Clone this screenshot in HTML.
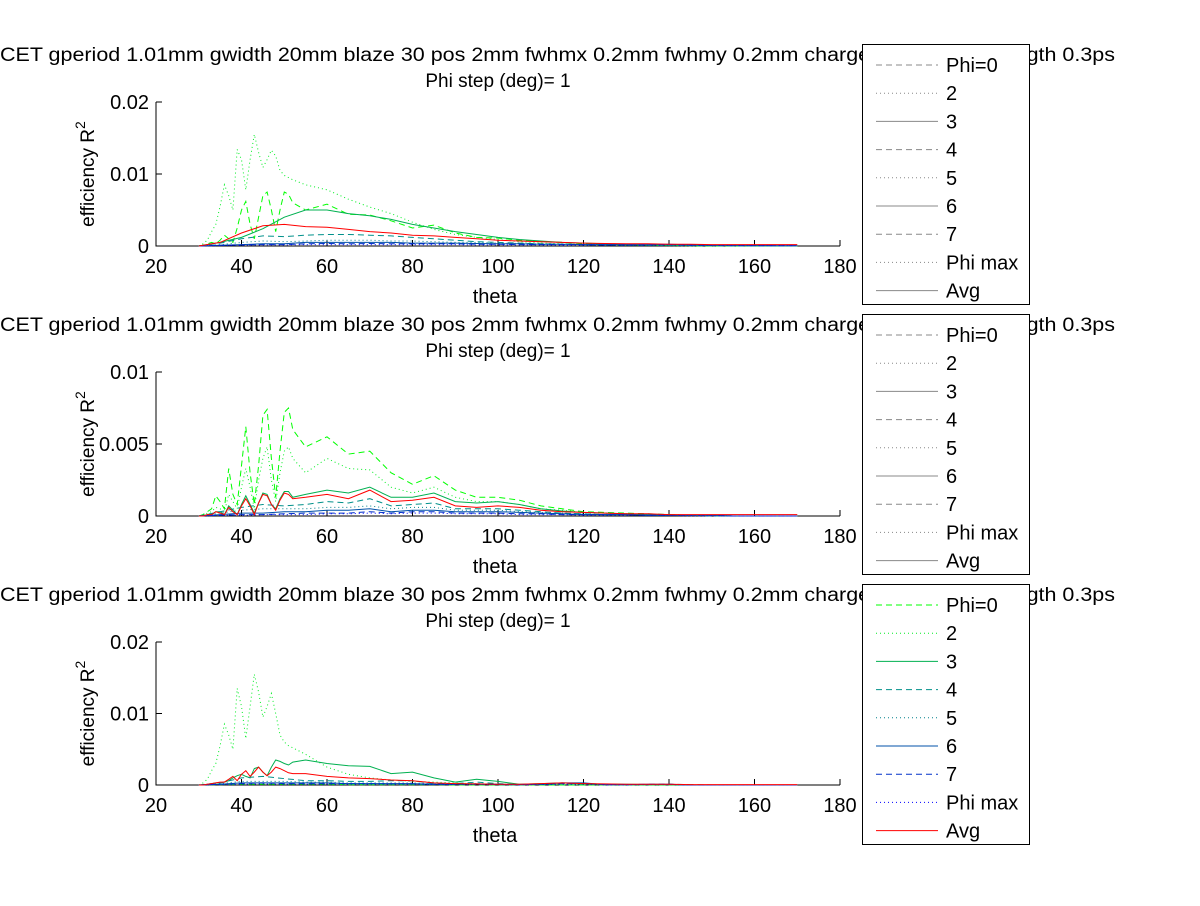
<!DOCTYPE html>
<html><head><meta charset="utf-8"><style>
body{margin:0;background:#fff;}
svg text{font-family:"Liberation Sans",sans-serif;fill:#000;}
</style></head><body>
<svg id="fig" width="1200" height="901" viewBox="0 0 1200 901" xmlns="http://www.w3.org/2000/svg"></svg>
<script>
const thetaFine=[30,31,32,33,34,35,36,37,38,39,40,41,42,43,44,45,46,47,48,49,50,51,52,55,60,65,70,75,80,85,90,95,100,105,110,115,120,125,130,135,140,145,150,155,160,165,170];
const thetaCoarse=[30,35,40,45,50,55,60,65,70,75,80,85,90,95,100,105,110,115,120,125,130,135,140,145,150,155,160,165,170];
const seriesNames=["Phi=0","2","3","4","5","6","7","Phi max","Avg"];
const xTicks=[20,40,60,80,100,120,140,160,180];
const yTicks1=[0,0.01,0.02];const yTickLabels1=["0","0.01","0.02"];
const yTicks2=[0,0.005,0.01];const yTickLabels2=["0","0.005","0.01"];
// plot 1 (values x1e-3)
const p1phi0=[0,0.1,0.3,0.5,0.3,0.8,1.5,1.0,0.5,2.5,5.0,6.2,3.0,1.0,4.0,7.0,7.5,5.0,2.0,5.0,7.5,7.2,6.0,5.0,5.8,4.4,4.3,3.5,2.5,2.9,1.8,1.2,1.1,0.8,0.6,0.5,0.3,0.25,0.2,0.1,0.1,0.05,0,0,0,0,0];
const p1phi2=[0,0.3,0.8,2,3,5.5,8.5,7,5,13.4,12,7.8,12,15.5,13,10.9,12,13.3,12.5,10.5,9.8,9.5,9.2,8.5,7.8,6.5,5.4,4.5,3.3,2.3,1.6,1.2,0.9,0.6,0.4,0.3,0.2,0.15,0.1,0.1,0.05,0,0,0,0,0,0];
const p1phi3=[0,0.5,1.2,2.4,4.0,5.0,5.0,4.5,4.2,3.7,3.0,2.5,2.0,1.6,1.2,0.9,0.7,0.5,0.4,0.3,0.2,0.15,0.1,0.1,0.05,0.05,0,0,0];
const p1phi4=[0,0.4,1.0,1.4,1.3,1.5,1.6,1.6,1.5,1.4,1.2,1.0,0.8,0.6,0.5,0.4,0.3,0.25,0.2,0.15,0.1,0.1,0.1,0.05,0.05,0,0,0,0];
const p1phi5=[0,0.2,0.5,0.7,0.6,0.7,0.8,0.8,0.8,0.7,0.7,0.6,0.5,0.5,0.4,0.35,0.3,0.25,0.2,0.15,0.15,0.1,0.1,0.1,0.05,0.05,0,0,0];
const p1phi6=[0,0.1,0.2,0.3,0.3,0.5,0.5,0.5,0.5,0.5,0.4,0.4,0.4,0.35,0.3,0.3,0.25,0.25,0.2,0.2,0.2,0.2,0.25,0.15,0.1,0.1,0.1,0.05,0.05];
const p1phi7=[0,0.1,0.15,0.2,0.2,0.3,0.35,0.3,0.35,0.3,0.3,0.3,0.3,0.25,0.25,0.2,0.2,0.2,0.2,0.15,0.15,0.15,0.2,0.1,0.1,0.1,0.05,0.05,0.05];
const p1max=[0,0.05,0.1,0.15,0.15,0.2,0.2,0.2,0.2,0.2,0.2,0.2,0.2,0.15,0.15,0.15,0.15,0.1,0.1,0.1,0.1,0.1,0.15,0.1,0.1,0.05,0.05,0.05,0.05];
const p1avg=[0,0.5,1.8,2.8,3.0,2.7,2.6,2.3,2.0,1.8,1.5,1.4,1.2,1.0,0.8,0.7,0.6,0.5,0.4,0.35,0.3,0.3,0.25,0.25,0.2,0.2,0.2,0.2,0.2];
// plot 2
const p2phi0=[0,0.1,0.3,0.5,1.4,1.0,0.5,3.3,1.5,0.8,3.5,6.2,3.0,0.8,3.5,7.0,7.4,4.0,1.3,4.5,7.2,7.5,6.0,4.8,5.5,4.3,4.5,3.0,2.2,2.8,1.8,1.3,1.3,1.1,0.7,0.5,0.3,0.25,0.2,0.15,0.1,0.05,0.05,0,0,0,0];
const p2phi2=[0,0.05,0.2,0.3,0.6,0.5,0.3,1.5,1.0,0.5,2.0,3.3,2.0,0.5,2.5,4.0,4.8,2.5,1.0,3.0,4.5,4.8,4.0,3.0,4.0,3.3,3.2,2.0,1.6,2.0,1.3,1.0,1.0,0.8,0.5,0.4,0.25,0.2,0.15,0.1,0.1,0.05,0.05,0,0,0,0];
const p2phi3=[0,0,0.1,0.1,0.3,0.3,0.1,0.7,0.4,0.1,0.8,1.4,0.8,0.2,0.9,1.6,1.5,0.8,0.5,1.2,1.7,1.7,1.3,1.5,1.8,1.6,2.0,1.3,1.3,1.6,1.0,0.9,1.0,0.8,0.5,0.35,0.25,0.2,0.15,0.1,0.1,0.05,0.05,0,0,0,0];
const p2phi4=[0,0.3,0.6,0.8,0.7,0.8,1.0,0.9,1.2,0.7,0.8,0.9,0.5,0.5,0.5,0.4,0.3,0.2,0.15,0.1,0.1,0.05,0.05,0.05,0,0,0,0,0];
const p2phi5=[0,0.2,0.4,0.5,0.5,0.5,0.6,0.6,0.7,0.5,0.6,0.6,0.4,0.4,0.4,0.3,0.25,0.2,0.15,0.1,0.1,0.05,0.05,0.05,0,0,0,0,0];
const p2phi6=[0,0.1,0.2,0.2,0.3,0.3,0.4,0.4,0.5,0.3,0.4,0.4,0.3,0.3,0.3,0.25,0.2,0.15,0.1,0.1,0.1,0.05,0.05,0.05,0.05,0,0,0,0];
const p2phi7=[0,0.05,0.1,0.1,0.15,0.2,0.2,0.2,0.3,0.2,0.3,0.3,0.2,0.2,0.2,0.15,0.15,0.1,0.1,0.1,0.1,0.05,0.05,0.05,0.05,0,0,0,0];
const p2max=[0,0.05,0.05,0.1,0.1,0.1,0.15,0.15,0.2,0.15,0.2,0.2,0.15,0.15,0.15,0.1,0.1,0.1,0.05,0.05,0.05,0.05,0.05,0,0,0,0,0,0];
const p2avg=[0,0,0.1,0.1,0.3,0.2,0.1,0.6,0.3,0.1,0.7,1.2,0.7,0.1,0.9,1.5,1.4,0.8,0.4,1.1,1.6,1.5,1.2,1.3,1.5,1.2,1.8,1.0,1.1,1.3,0.7,0.6,0.7,0.6,0.4,0.3,0.25,0.2,0.15,0.15,0.1,0.1,0.1,0.1,0.1,0.1,0.1];
// plot 3
const p3phi0=[0,0.05,0.1,0.1,0.1,0.1,0.1,0.05,0.05,0.05,0.05,0.05,0,0,0,0,0,0,0,0,0,0,0,0,0,0,0,0,0];
const p3phi2=[0,0.3,0.8,2,3,5.5,8.5,7,5,13.5,11,6.5,11,15.5,13,9.5,11,12.8,10,7,6,5.5,5.2,4.3,2.5,1.5,1.0,0.7,0.5,0.4,0.3,0.15,0.1,0.1,0.05,0.05,0,0,0,0,0,0,0,0,0,0,0];
const p3phi3=[0,0,0.1,0.2,0.3,0.3,0.4,0.6,1.0,1.3,1.5,1.2,1.0,2.3,2.5,1.8,1.3,2.5,3.5,3.3,3.0,2.8,3.2,3.5,3.0,2.7,2.6,1.6,1.8,1.0,0.4,0.8,0.5,0.1,0.2,0.3,0.2,0.1,0.1,0.05,0.05,0,0,0,0,0,0];
const p3phi4=[0,0.3,1.0,1.2,0.9,0.6,0.6,0.5,0.5,0.6,0.6,0.2,0.2,0.4,0.2,0.05,0.1,0.2,0.15,0.05,0.05,0.05,0.1,0.05,0,0,0,0,0];
const p3phi5=[0,0.2,0.5,0.5,0.5,0.4,0.4,0.3,0.3,0.3,0.3,0.15,0.15,0.2,0.1,0.05,0.1,0.1,0.1,0.05,0.05,0.05,0.1,0,0,0,0,0,0];
const p3phi6=[0,0.1,0.3,0.3,0.3,0.3,0.3,0.2,0.2,0.2,0.2,0.1,0.1,0.15,0.1,0.05,0.1,0.3,0.3,0.05,0.05,0.1,0.1,0,0,0,0,0,0];
const p3phi7=[0,0.1,0.2,0.3,0.2,0.2,0.2,0.2,0.2,0.15,0.15,0.1,0.1,0.1,0.05,0.05,0.1,0.2,0.2,0.05,0.05,0.1,0.1,0,0,0,0,0,0];
const p3max=[0,0.05,0.1,0.15,0.1,0.1,0.1,0.1,0.1,0.1,0.1,0.05,0.05,0.05,0.05,0,0.05,0.1,0.1,0,0,0.05,0.05,0,0,0,0,0,0];
const p3avg=[0,0,0.1,0.2,0.3,0.4,0.4,0.8,1.2,0.6,1.5,2.0,1.2,1.8,2.5,1.8,1.3,1.8,2.5,2.3,2.0,1.7,1.6,1.6,1.2,1.0,0.9,0.7,0.6,0.3,0.2,0.15,0.1,0.1,0.2,0.3,0.2,0.15,0.1,0.1,0.1,0.05,0.05,0.05,0.05,0.05,0.05];

const NS="http://www.w3.org/2000/svg";
const svg=document.getElementById('fig');
function mk(tag,attrs,parent){const e=document.createElementNS(NS,tag);for(const k in attrs)e.setAttribute(k,attrs[k]);(parent||svg).appendChild(e);return e;}
const styles=[
 {c:"#00ff00",d:"6,4"},{c:"#00ee22",d:"1,3"},{c:"#00b050",d:""},{c:"#00908a",d:"6,4"},
 {c:"#00808a",d:"1,3"},{c:"#0050a8",d:""},{c:"#0030c8",d:"6,4"},{c:"#0000ff",d:"1,3"},{c:"#ff0000",d:""}];
const plots=[
 {top:102,bot:246,ymax:0.02,yt:yTicks1,yl:yTickLabels1,lgTop:44,lgGrey:true,
  s:[[thetaFine,p1phi0],[thetaFine,p1phi2],[thetaCoarse,p1phi3],[thetaCoarse,p1phi4],[thetaCoarse,p1phi5],[thetaCoarse,p1phi6],[thetaCoarse,p1phi7],[thetaCoarse,p1max],[thetaCoarse,p1avg]]},
 {top:372,bot:516,ymax:0.01,yt:yTicks2,yl:yTickLabels2,lgTop:314,lgGrey:true,
  s:[[thetaFine,p2phi0],[thetaFine,p2phi2],[thetaFine,p2phi3],[thetaCoarse,p2phi4],[thetaCoarse,p2phi5],[thetaCoarse,p2phi6],[thetaCoarse,p2phi7],[thetaCoarse,p2max],[thetaFine,p2avg]]},
 {top:642,bot:785,ymax:0.02,yt:yTicks1,yl:yTickLabels1,lgTop:584,lgGrey:false,
  s:[[thetaCoarse,p3phi0],[thetaFine,p3phi2],[thetaFine,p3phi3],[thetaCoarse,p3phi4],[thetaCoarse,p3phi5],[thetaCoarse,p3phi6],[thetaCoarse,p3phi7],[thetaCoarse,p3max],[thetaFine,p3avg]]}
];
const X0=156,X1=840;
const xs=v=>X0+(v-20)/160*(X1-X0);
const title1="CET gperiod 1.01mm gwidth 20mm blaze 30 pos 2mm fwhmx 0.2mm fwhmy 0.2mm charge 20pC bunch length 0.3ps";
plots.forEach((p,pi)=>{
  const g=mk('g',{});
  
  
  const ys=v=>p.bot-v/p.ymax*(p.bot-p.top);
  const t1=mk('text',{x:0,y:p.top-41,'font-size':19,textLength:1115,lengthAdjust:'spacingAndGlyphs'},g);t1.textContent=title1;
  
  
  const t2=mk('text',{x:498,y:p.top-15,'font-size':19,'text-anchor':'middle'},g);t2.textContent="Phi step (deg)= 1";
  
  
  const ax=mk('path',{d:`M${X0},${p.top}V${p.bot}H${X1}`,stroke:'#000',fill:'none','stroke-width':1},g);
  
  
  xTicks.forEach(v=>{
    mk('line',{x1:xs(v),x2:xs(v),y1:p.bot,y2:p.bot-6,stroke:'#000'},g);
    const tl=mk('text',{x:xs(v),y:p.bot+27,'font-size':20,'text-anchor':'middle'},g);tl.textContent=v;
    
    
  });
  p.yt.forEach((v,i)=>{
    mk('line',{x1:X0,x2:X0+6,y1:ys(v),y2:ys(v),stroke:'#000'},g);
    const tl=mk('text',{x:X0-7,y:ys(v)+7,'font-size':20,'text-anchor':'end'},g);tl.textContent=p.yl[i];
    
    
  });
  const xl=mk('text',{x:495,y:p.bot+57,'font-size':20,'text-anchor':'middle'},g);xl.textContent="theta";
  
  
  const yl=mk('text',{transform:`translate(94,${(p.top+p.bot)/2}) rotate(-90)`,'font-size':19,'text-anchor':'middle'},g);
  yl.textContent="efficiency R";
  const sup=mk('tspan',{dy:-9,'font-size':14},yl);sup.textContent="2";
  
  
  p.s.forEach((sr,si)=>{
    const th=sr[0],vals=sr[1];
    let d='';
    vals.forEach((v,k)=>{d+=(k?'L':'M')+xs(th[k]).toFixed(1)+','+ys(v/1000).toFixed(1);});
    const ln=mk('path',{d:d,fill:'none',stroke:styles[si].c,'stroke-width':1,'stroke-dasharray':styles[si].d},g);
    
    
  });
  const lg=mk('g',{},g);
  
  
  mk('rect',{x:862.5,y:p.lgTop+0.5,width:167,height:260,fill:'#fff',stroke:'#000'},lg);
  seriesNames.forEach((n,si)=>{
    const yy=p.lgTop+21+si*28.2;
    const e=mk('g',{},lg);
    
    
    mk('line',{x1:876,x2:938,y1:yy,y2:yy,stroke:p.lgGrey?'#888':styles[si].c,'stroke-dasharray':styles[si].d},e);
    const tx=mk('text',{x:946,y:yy+7,'font-size':20},e);tx.textContent=n;
  });
});
</script>
</body></html>
